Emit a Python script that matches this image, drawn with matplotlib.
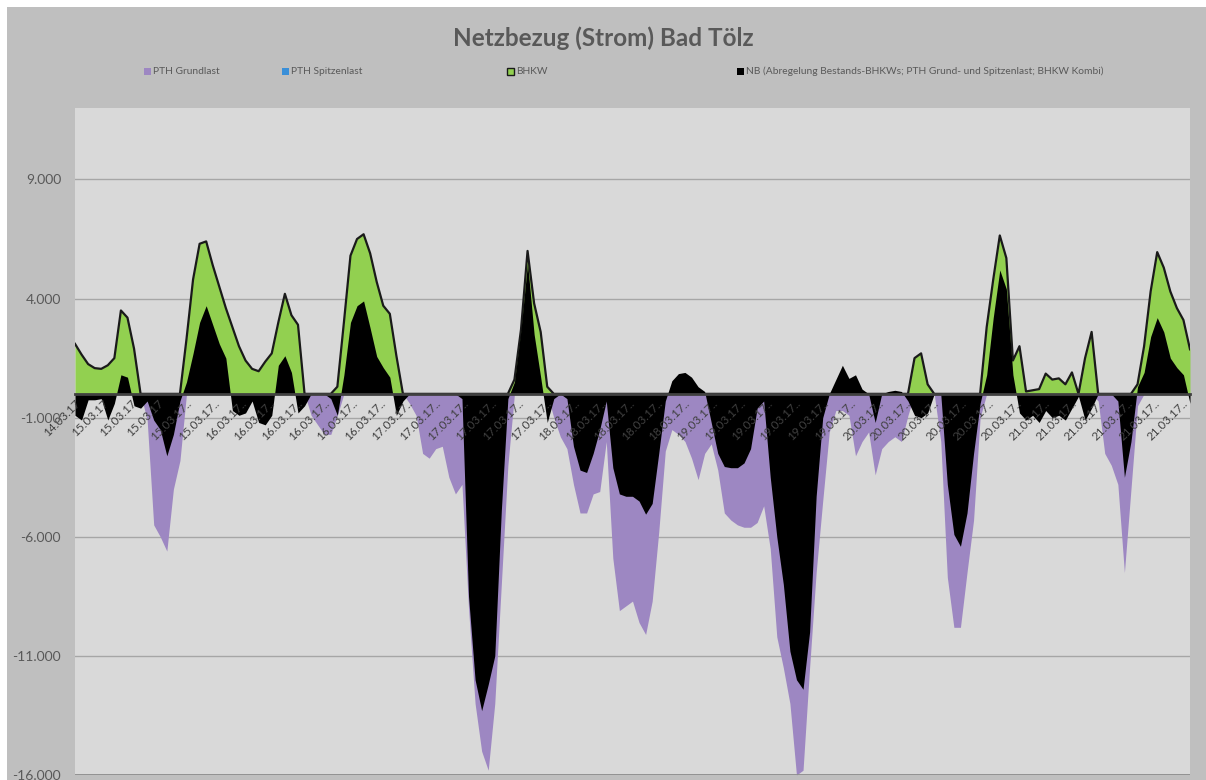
import matplotlib
matplotlib.use('Agg')
import matplotlib.pyplot as plt
from matplotlib.patches import Rectangle
import numpy as np

# ---------------------- data ---------------------- #
# hourly values (kW), starting 14.03.17 evening
pth_grundlast = [
    0, 0, 0, 0, 0, 0, 0, 0, 0, 0, 0,
    -1100, -5500, -6000, -6600, -4000, -2800,
    0, 0, 0, 0, 0, 0, 0, 0, 0, 0, 0, 0, 0, 0, 0, 0, 0, 0, 0,
    -900, -1300, -1700, -1700, -900,
    0, 0, 0, 0, 0, 0, 0, 0, 0, 0,
    -400, -900, -2500, -2700, -2300, -2200, -3500, -4200, -3800, -9000,
    -13000, -15000, -15800, -13000, -8000, -3000,
    0, 0, 0, 0, 0, 0,
    -1000, -1800, -2300, -3800, -5000, -5000, -4200, -4100, -2000, -6900,
    -9100, -8900, -8700, -9600, -10100, -8700, -5800, -2400, -1500, -1700,
    -2000, -2700, -3600, -2500, -2100, -3200, -5000, -5300, -5500, -5600,
    -5600, -5400, -4700, -6500, -10200, -11500, -13000, -16000, -15800, -11500,
    -7500, -4500, -1600, -700, -700, -900, -2600, -2000, -1600, -3400,
    -2300, -2000, -1800, -2000, -900,
    0, 0, 0, 0,
    -2000, -7700, -9800, -9800, -7500, -5300, -1000,
    0, 0, 0, 0, 0, 0, 0, 0, 0, 0, 0, 0, 0, 0, 0, 0, 0,
    -300, -2500, -3000, -3800, -7500, -4000, -500,
    0, 0, 0, 0, 0, 0, 0, 0,
]
bhkw = [
    2100, 1650, 1250, 1080, 1050, 1200, 1500, 3500, 3200, 1900, 0,
    0, 0, 0, 0, 0, 0,
    2300, 4800, 6300, 6400, 5400, 4500, 3600, 2800, 2000, 1400, 1050, 950,
    1350, 1700, 3000, 4200, 3300, 2900, 0,
    0, 0, 0, 0,
    300, 3000, 5800, 6500, 6700, 5900, 4700, 3700, 3360, 1600, 0,
    0, 0, 0, 0, 0, 0, 0, 0, 0, 0, 0, 0, 0, 0, 0, 0,
    600, 2700, 6000, 3800, 2600, 300,
    0, 0, 0, 0, 0, 0, 0, 0, 0, 0, 0, 0, 0, 0, 0, 0, 0, 0, 0, 0,
    0, 0, 0, 0, 0, 0, 0, 0, 0, 0, 0, 0, 0, 0, 0, 0, 0, 0, 0, 0,
    0, 0, 0, 0, 0, 0, 0, 0, 0, 0, 0, 0, 0, 0, 0,
    1500, 1700, 400,
    0, 0, 0, 0, 0, 0, 0, 0,
    2800, 4800, 6650, 5700, 1400, 2000, 100, 150, 200, 850, 600, 650, 400,
    900, 0, 1500, 2600, 0,
    0, 0, 0, 0, 0,
    400, 2000, 4300, 5950, 5300, 4300, 3600, 3100, 1870,
]
nb = [
    -900, -1100, -250, -250, -200, -1100, -400, 800, 700, -500, -600,
    -300, -1100, -1500, -2600, -1700, -300,
    500, 1700, 3000, 3700, 2900, 2100, 1500, -700, -900, -800, -300, -1200,
    -1300, -900, 1200, 1600, 900, -800, -500,
    0, 0, 0, -200, -900,
    800, 3000, 3700, 3900, 2760, 1570, 1100, 700, -900, -300,
    0, 0, 0, 0, 0, 0, 0, 0,
    -200, -8500, -12000, -13300, -12200, -11000, -4900, -200,
    500, 2700, 5500, 2500, 700, -1200, -200, 0, -200, -2200, -3200, -3300,
    -2500, -1500, -300, -3100, -4200, -4300, -4300, -4500, -5050, -4600,
    -2500, -300,
    550, 850, 900, 700, 300, 100,
    -1200, -2500, -3050, -3100, -3100, -2900, -2300, -600, -300,
    -3500, -6000, -8000, -10800, -12000, -12400, -10000, -4300, -1000, 0,
    600, 1200, 650, 800, 200, 0, -1200, 0, 100, 150, 100, -300,
    -900, -1000, -800, 0, 0, -3800, -5900, -6400, -5000, -2500, -400,
    800, 3200, 5200, 4400, 800, -800, -1100, -900, -1200, -700, -1000,
    -900, -1100, -600, -100, -1100, -600, 0, 0, 0, -300, -3500, -2000,
    300, 900, 2400, 3200, 2600, 1500, 1100, 800, -400,
]

tick_labels = (['14.03.17', '15.03.17', '15.03.17', '15.03.17']
               + ['15.03.17..'] * 2 + ['16.03.17..'] * 6 + ['17.03.17..'] * 6
               + ['18.03.17..'] * 5 + ['19.03.17..'] * 6 + ['20.03.17..'] * 6
               + ['21.03.17..'] * 6)

legend_names = ['PTH Grundlast', 'PTH Spitzenlast', 'BHKW',
                'NB (Abregelung Bestands-BHKWs; PTH Grund- und Spitzenlast; BHKW Kombi)']

# ---------------------- colours / layout ---------------------- #
C_PURPLE = '#9d87c2'
C_BLUE = '#3a8fd8'
C_GREEN = '#92d050'
C_BLACK = '#000000'
C_TEXT = '#595959'
W, H = 1206, 780

plt.rcParams['font.family'] = ['Lato', 'DejaVu Sans']

fig = plt.figure(figsize=(W / 100, H / 100), dpi=100, facecolor='white')
# chart area background
fig.add_artist(Rectangle((7 / W, 0), 1 - 7 / W, 1 - 7 / H, transform=fig.transFigure,
                         facecolor='#bfbfbf', edgecolor='none', zorder=-10))

ax = fig.add_axes([75 / W, 1 - 775 / H, (1190 - 75) / W, (775 - 108) / H])
ax.set_facecolor('#d9d9d9')

# category axis sits on the zero line (set before ticks, it resets them)
for s in ['top', 'right', 'left']:
    ax.spines[s].set_visible(False)
ax.spines['bottom'].set_position(('data', 0))
ax.spines['bottom'].set_color('#404040')
ax.spines['bottom'].set_linewidth(2)

x = np.arange(len(nb))
ax.fill_between(x, 0, pth_grundlast, color=C_PURPLE, lw=0, zorder=1)
ax.fill_between(x, 0, bhkw, color=C_GREEN, lw=0, zorder=1.2)
ax.plot(x, bhkw, color='#1a1a1a', lw=1.6, zorder=1.3)
ax.fill_between(x, 0, nb, color=C_BLACK, lw=0, zorder=1.4)

ax.set_xlim(0, len(nb) - 1)
ax.set_ylim(-16000, 12000)

# horizontal gridlines behind the areas, axis labels stay on top
yt = np.arange(-16000, 12000, 5000)
for v in yt:
    ax.axhline(v, color='#a6a6a6', lw=1, zorder=0.5)
ax.axhline(-16000, color='#8c8c8c', lw=2, zorder=3)

ax.tick_params(axis='both', length=0)
ax.tick_params(axis='y', pad=10)
ax.tick_params(axis='x', pad=3)

ax.set_yticks(yt)
ax.set_yticklabels([f'{v:,}'.replace(',', '.') for v in yt], color=C_TEXT, fontsize=10)

ax.set_xticks(np.arange(len(tick_labels)) * 4.22)
ax.set_xticklabels(tick_labels, fontsize=8.5, color='#404040', rotation=45,
                   ha='right', va='top', rotation_mode='anchor')

# title
fig.text(603 / W, 1 - 38 / H, 'Netzbezug (Strom) Bad Tölz', ha='center', va='center',
         fontsize=17.5, fontweight='bold', color=C_TEXT)

# legend row
leg_x = [144, 282, 507, 737]
leg_fc = [C_PURPLE, C_BLUE, C_GREEN, C_BLACK]
leg_ec = ['none', 'none', '#1a1a1a', 'none']
for lx, name, fc, ec in zip(leg_x, legend_names, leg_fc, leg_ec):
    fig.add_artist(Rectangle((lx / W, 1 - 75 / H), 7 / W, 7 / H, transform=fig.transFigure,
                             facecolor=fc, edgecolor=ec, lw=1))
    fig.text((lx + 9) / W, 1 - 71 / H, name, ha='left', va='center',
             fontsize=7.4, color=C_TEXT)

fig.savefig('out.png', dpi=100, facecolor=fig.get_facecolor())
